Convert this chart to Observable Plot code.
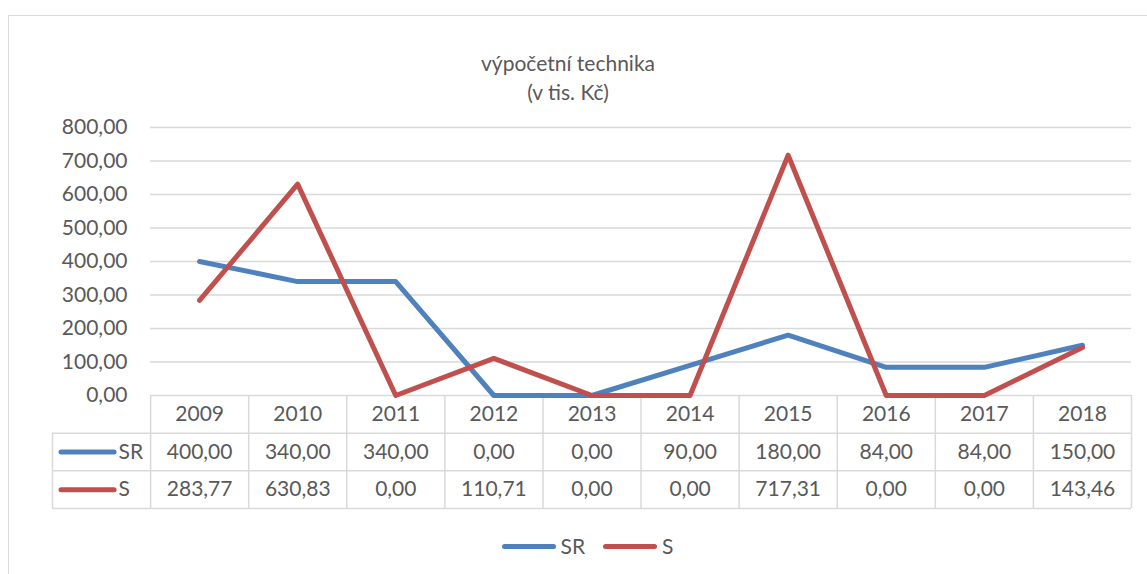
<!DOCTYPE html>
<html><head><meta charset="utf-8">
<script src="https://cdn.jsdelivr.net/npm/d3@7"></script>
<script src="https://cdn.jsdelivr.net/npm/@observablehq/plot@0.6"></script>
<style>
body{margin:0;background:#fff;font-family:Lato,"Open Sans",sans-serif;color:#595959;}
#wrap{position:relative;width:1147px;height:574px;overflow:hidden;background:#fff;}
#frame{position:absolute;left:8px;top:15px;width:1170px;height:620px;border:1.5px solid #d9d9d9;box-sizing:border-box;}
#title{position:absolute;left:0;top:48px;width:1136px;text-align:center;font-size:21px;line-height:29px;color:#595959;}
.layer{position:absolute;left:0;}
#legend{position:absolute;left:0;top:534px;width:1147px;display:flex;justify-content:center;align-items:center;font-size:21px;line-height:24px;padding-left:28px;box-sizing:border-box;}
.sw{display:inline-block;width:54px;height:5px;border-radius:3px;margin-right:5px;}
.item{display:flex;align-items:center;margin:0 9px;}
</style>
</head><body>
<div id="wrap">
  <div id="frame"></div>
  <div id="title">výpočetní technika<br>(v tis. Kč)</div>
  <div id="table" class="layer" style="top:394px"></div>
  <div id="chart" class="layer" style="top:0px"></div>
  <div id="legend"></div>
</div>
<script>
const years = [2009, 2010, 2011, 2012, 2013, 2014, 2015, 2016, 2017, 2018];
const seriesNames = ["SR", "S"];
const srValues = [400.00, 340.00, 340.00, 0.00, 0.00, 90.00, 180.00, 84.00, 84.00, 150.00];
const sValues = [283.77, 630.83, 0.00, 110.71, 0.00, 0.00, 717.31, 0.00, 0.00, 143.46];
const yTicks = [0, 100, 200, 300, 400, 500, 600, 700, 800];
const colors = {SR: "#4f81bd", S: "#c0504d"};

const fmt = d => d.toFixed(2).replace(".", ",");
const valuesBySeries = {SR: srValues, S: sValues};
const long = seriesNames.flatMap(name => years.map((year, i) => ({series: name, year, value: valuesBySeries[name][i]})));

const textColor = "#595959";
const gridColor = "#d9d9d9";
const xDomain = [years[0] - 0.5, years[years.length - 1] + 0.5];
const boundaries = d3.range(years.length + 1).map(i => years[0] - 0.5 + i);

// Chart
const chart = Plot.plot({
  width: 1147,
  height: 415,
  marginTop: 127,
  marginBottom: 20,
  marginLeft: 150,
  marginRight: 16,
  style: {background: "transparent", fontFamily: "Lato, 'Open Sans', sans-serif", fontSize: "21px", color: textColor},
  x: {domain: xDomain, axis: null},
  y: {domain: [0, 800], ticks: yTicks, tickFormat: fmt, tickSize: 0, tickPadding: 23, label: null},
  marks: [
    Plot.ruleY(yTicks, {stroke: gridColor, strokeWidth: 1.5}),
    Plot.axisY({ticks: yTicks, tickFormat: fmt, tickSize: 0, tickPadding: 23, label: null, fill: textColor, fontSize: 21}),
    Plot.line(long, {x: "year", y: "value", z: "series", stroke: d => colors[d.series], strokeWidth: 5, strokeLinejoin: "round", strokeLinecap: "round"})
  ]
});
document.getElementById("chart").appendChild(chart);

// Data table
const cells = [
  ...years.map(year => ({x: year, row: 0.5, label: String(year)})),
  ...long.map(d => ({x: d.year, row: seriesNames.indexOf(d.series) + 1.5, label: fmt(d.value)}))
];
const rowLabels = seriesNames.map((name, i) => ({name, row: i + 1.5}));

const table = Plot.plot({
  width: 1147,
  height: 116,
  marginTop: 1,
  marginBottom: 2,
  marginLeft: 52,
  marginRight: 16,
  style: {background: "transparent", fontFamily: "Lato, 'Open Sans', sans-serif"},
  x: {domain: [years[0] - 1.5, years[years.length - 1] + 0.5], axis: null},
  y: {domain: [0, 3], reverse: true, axis: null},
  marks: [
    Plot.ruleY([1, 2, 3], {x1: years[0] - 1.5, x2: xDomain[1], stroke: gridColor, strokeWidth: 1.5}),
    Plot.ruleX(boundaries, {y1: 0, y2: 3, stroke: gridColor, strokeWidth: 1.5}),
    Plot.ruleX([years[0] - 1.5], {y1: 1, y2: 3, stroke: gridColor, strokeWidth: 1.5}),
    Plot.text(cells, {x: "x", y: "row", text: "label", fill: textColor, fontSize: 21}),
    Plot.ruleY(rowLabels, {y: "row", x1: years[0] - 1.5, x2: years[0] - 0.5, insetLeft: 9, insetRight: 36, stroke: d => colors[d.name], strokeWidth: 5, strokeLinecap: "round"}),
    Plot.text(rowLabels, {x: years[0] - 0.5, y: "row", text: "name", textAnchor: "start", dx: -32, fill: textColor, fontSize: 21})
  ]
});
document.getElementById("table").appendChild(table);

// Legend
const legend = document.getElementById("legend");
for (const name of seriesNames) {
  const item = document.createElement("div");
  item.className = "item";
  const sw = document.createElement("span");
  sw.className = "sw";
  sw.style.background = colors[name];
  const t = document.createElement("span");
  t.textContent = name;
  item.appendChild(sw); item.appendChild(t);
  legend.appendChild(item);
}
</script>
</body></html>
